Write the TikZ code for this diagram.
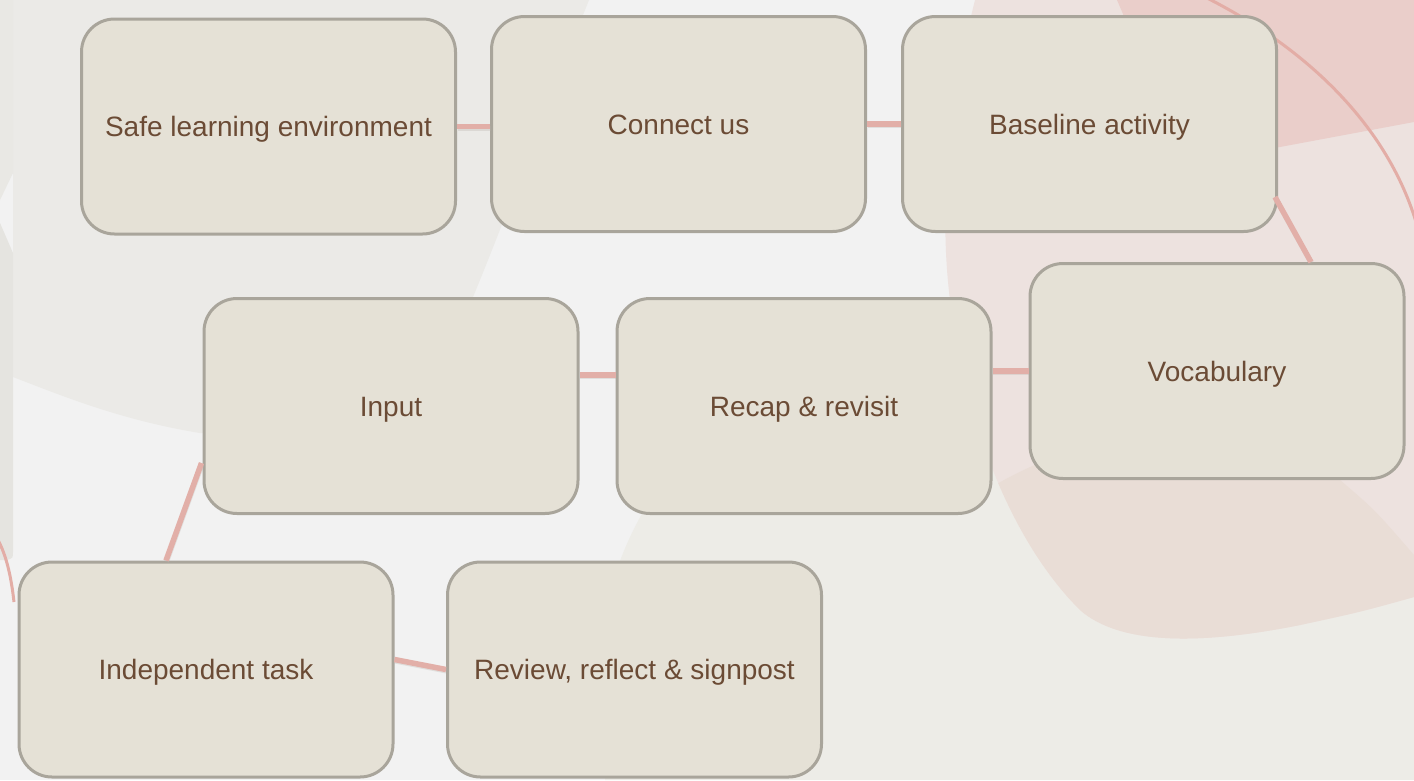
\documentclass[tikz,border=0pt]{standalone}
\usepackage{fontspec}
\setmainfont{Liberation Sans}
\usetikzlibrary{calc}
\definecolor{bgbase}{HTML}{F2F2F2}
\definecolor{bggray}{HTML}{EBEAE7}
\definecolor{stripa}{HTML}{E9E8E4}
\definecolor{stripb}{HTML}{E5E4E0}
\definecolor{bgwarm}{HTML}{EDECE7}
\definecolor{pinklight}{HTML}{EDE2DF}
\definecolor{pinkmid}{HTML}{E9DDD6}
\definecolor{pinkdark}{HTML}{EACECA}
\definecolor{pinkline}{HTML}{E3ADA6}
\definecolor{boxfill}{HTML}{E5E1D6}
\definecolor{boxborder}{HTML}{A9A59B}
\definecolor{textc}{HTML}{6B4B35}
\definecolor{connc}{HTML}{E2AFA8}
\definecolor{shadowc}{HTML}{B9B0AA}
\tikzset{
  stepbox/.style={draw=boxborder, line width=3pt, fill=boxfill, rounded corners=33pt,
    minimum width=374pt, minimum height=215pt, inner sep=0pt, text=textc,
    text height=20pt, text depth=0pt,
    font=\fontsize{28}{33}\selectfont},
  conn/.style={draw=connc, line width=5.5pt,
    preaction={draw=shadowc, draw opacity=0.3, line width=5pt, transform canvas={shift={(0.5pt,-1.5pt)}}}},
  arcline/.style={draw=pinkline, line width=3pt}
}
\begin{document}
\begin{tikzpicture}[x=1pt,y=-1pt]
\useasboundingbox (0,0) rectangle (1414,780);
\begin{scope}
\clip (0,0) rectangle (1414,780);
% background
\fill[bgbase] (0,0) rectangle (1414,780);
\fill[bggray] (13,0) -- (589,0) .. controls (545,110) and (505,220) .. (473,297)
  .. controls (420,420) and (300,440) .. (200,433) .. controls (120,420) and (60,395) .. (13,377) -- cycle;
\fill[stripa] (0,0) -- (13,0) -- (13,173) -- (0,200) -- cycle;
\fill[stripb] (0,223) -- (13,253) -- (13,552) .. controls (13,558) .. (7,560) -- (0,560) -- cycle;
\fill[bgwarm] (690,440) .. controls (640,510) and (615,555) .. (605,620) -- (605,780) -- (1414,780) -- (1414,440) -- cycle;
\begin{scope}
\path[clip] (975,0) .. controls (945,120) and (940,220) .. (950,300)
  .. controls (965,420) and (1010,540) .. (1080,610)
  .. controls (1120,645) and (1200,645) .. (1300,625)
  .. controls (1360,612) .. (1414,597) -- (1414,0) -- cycle;
\fill[pinklight] (900,0) rectangle (1414,780);
\fill[pinkmid] (900,560) .. controls (960,500) and (1010,470) .. (1100,440)
  .. controls (1220,420) and (1300,450) .. (1340,480)
  .. controls (1375,510) .. (1414,555) -- (1414,780) -- (900,780) -- cycle;
\end{scope}
\fill[pinkdark] (1117,0) -- (1414,0) -- (1414,122) -- (1280,147) -- (1200,160) .. controls (1160,100) .. (1117,0) -- cycle;
\draw[arcline] (1207,-2) .. controls (1300,45) and (1385,120) .. (1416,222);
\draw[arcline] (-2,540) .. controls (6,555) and (11,575) .. (14,602);
\end{scope}
% nodes
\node[stepbox] (safe) at (268.5,126.5) {Safe learning environment};
\node[stepbox] (connect) at (678.5,124) {Connect us};
\node[stepbox] (baseline) at (1089.5,124) {Baseline activity};
\node[stepbox] (vocab) at (1217,371) {Vocabulary};
\node[stepbox] (recap) at (804,406) {Recap \& revisit};
\node[stepbox] (input) at (391,406) {Input};
\node[stepbox] (indep) at (206,669.5) {Independent task};
\node[stepbox] (review) at (634.5,669.5) {Review, reflect \& signpost};
% connectors
\draw[conn] (safe.east) -- (safe.east -| connect.west);
\draw[conn] (connect.east) -- (connect.east -| baseline.west);
\draw[conn] ([xshift=-3pt,yshift=36pt]baseline.south east) -- ([xshift=94pt]vocab.north);
\draw[conn] (vocab.west) -- (vocab.west -| recap.east);
\draw[conn] ([yshift=31pt]recap.west) -- ([yshift=31pt]recap.west -| input.east);
\draw[conn] ([xshift=-1pt,yshift=-57pt]input.west) -- ([xshift=-40pt]indep.north);
\draw[conn] ([yshift=10pt]indep.east) -- (review.west);
\end{tikzpicture}
\end{document}
